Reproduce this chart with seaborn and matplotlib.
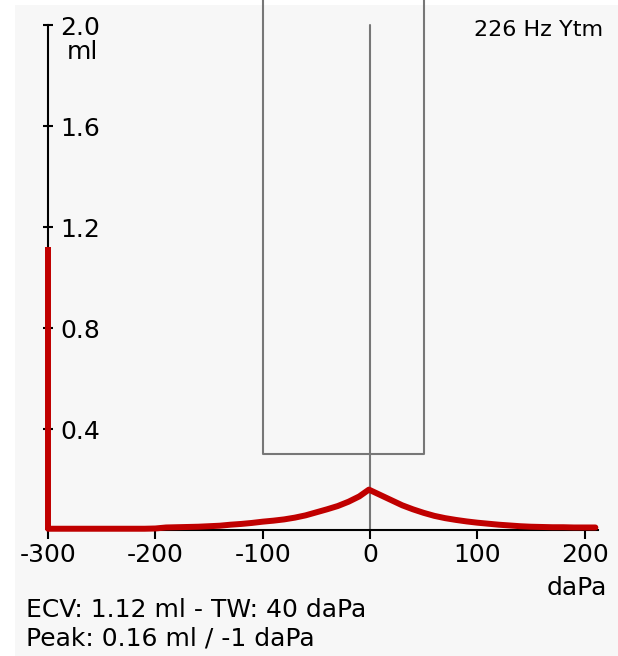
"""Tympanogram: 226 Hz admittance vs. ear canal pressure."""

import pandas as pd
import seaborn as sns
import matplotlib.pyplot as plt
from matplotlib.patches import Rectangle

# Pressure (daPa) and compensated admittance (ml)
pressure = [-300, -290, -280, -270, -260, -250, -240, -230, -220, -210,
            -200, -190, -180, -170, -160, -150, -140, -130, -120, -110,
            -100, -90, -80, -70, -60, -50, -40, -30, -20, -10,
            -1, 10, 20, 30, 40, 50, 60, 70, 80, 90,
            100, 110, 120, 130, 140, 150, 160, 170, 180, 190,
            200, 210]
admittance = [0.005, 0.005, 0.005, 0.005, 0.005, 0.005, 0.005, 0.005, 0.005, 0.005,
              0.006, 0.010, 0.011, 0.012, 0.013, 0.015, 0.017, 0.021, 0.024, 0.028,
              0.033, 0.037, 0.042, 0.049, 0.058, 0.070, 0.082, 0.095, 0.112, 0.133,
              0.160, 0.138, 0.118, 0.098, 0.082, 0.068, 0.056, 0.047, 0.040, 0.034,
              0.029, 0.025, 0.021, 0.018, 0.015, 0.013, 0.012, 0.011, 0.011, 0.010,
              0.010, 0.010]
ecv = 1.12            # ear canal volume, ml
peak_pressure = -1
peak_admittance = 0.16
tympanometric_width = 40

# Normal region box
box_pressure = [-100, 50]
box_min_admittance = 0.3

x_ticks = [-300, -200, -100, 0, 100, 200]
y_ticks = [0.4, 0.8, 1.2, 1.6, 2.0]

RED = "#c00000"
GRAY = "#777777"
FONT_SIZE = 18

W, H = 618, 656


def main():
    sns.set_theme(style="white")
    plt.rcParams["font.family"] = ["DejaVu Sans"]
    plt.rcParams["axes.unicode_minus"] = False
    plt.rcParams["text.color"] = "black"

    fig = plt.figure(figsize=(W / 100, H / 100), dpi=100)
    fig.patch.set_facecolor("white")
    fig.add_artist(Rectangle((15 / W, 0), 1 - 15 / W, 1 - 5 / H,
                             transform=fig.transFigure, facecolor="#f7f7f7",
                             edgecolor="none", zorder=0))

    ax = fig.add_axes([48 / W, 1 - 530 / H, (597.5 - 48) / W, 530 / H])
    ax.set_facecolor("none")
    ax.set_xlim(-300, 212)
    ax.set_ylim(0, 2.1)

    # normal box and centre line
    ax.plot([box_pressure[0], box_pressure[0], box_pressure[1], box_pressure[1]],
            [2.1, box_min_admittance, box_min_admittance, 2.1],
            color=GRAY, lw=1.5, zorder=2)
    ax.plot([0, 0], [0, y_ticks[-1]], color=GRAY, lw=1.5, zorder=2)

    # admittance trace and ECV bar
    df = pd.DataFrame({"pressure": pressure, "admittance": admittance})
    sns.lineplot(data=df, x="pressure", y="admittance", color=RED, lw=4.3,
                 ax=ax, zorder=3, clip_on=False)
    ax.plot([pressure[0], pressure[0]], [0, ecv], color=RED, lw=4.3,
            solid_capstyle="butt", zorder=3, clip_on=False)

    # axes styling
    for side in ["top", "right"]:
        ax.spines[side].set_visible(False)
    for side in ["left", "bottom"]:
        ax.spines[side].set_color("black")
        ax.spines[side].set_linewidth(1.5)
    ax.spines["left"].set_bounds(0, y_ticks[-1])

    ax.set_xticks(x_ticks)
    ax.set_xticklabels([str(t) for t in x_ticks])
    ax.set_yticks(y_ticks)
    ax.set_yticklabels([f"{t:.1f}" for t in y_ticks])
    ax.tick_params(axis="x", bottom=True, direction="out", length=6.5, width=1.5,
                   labelsize=FONT_SIZE, pad=3, colors="black")
    ax.tick_params(axis="y", left=True, direction="inout", length=7, width=1.5,
                   labelsize=FONT_SIZE, pad=-12.5, colors="black")
    plt.setp(ax.get_yticklabels(), ha="left")
    ax.set_xlabel("")
    ax.set_ylabel("")

    # unit labels and annotations
    fig.text(98 / W, 1 - 52 / H, "ml", ha="right", va="center", fontsize=FONT_SIZE)
    fig.text(607 / W, 1 - 588 / H, "daPa", ha="right", va="center", fontsize=FONT_SIZE)
    fig.text(603 / W, 1 - 30 / H, "226 Hz Ytm", ha="right", va="center", fontsize=16)
    fig.text(26 / W, 1 - 610 / H,
             f"ECV: {ecv:.2f} ml - TW: {tympanometric_width} daPa",
             ha="left", va="center", fontsize=FONT_SIZE)
    fig.text(26 / W, 1 - 638 / H,
             f"Peak: {peak_admittance:.2f} ml / {peak_pressure} daPa",
             ha="left", va="center", fontsize=FONT_SIZE)

    fig.savefig("out.png", dpi=100)


if __name__ == "__main__":
    main()
